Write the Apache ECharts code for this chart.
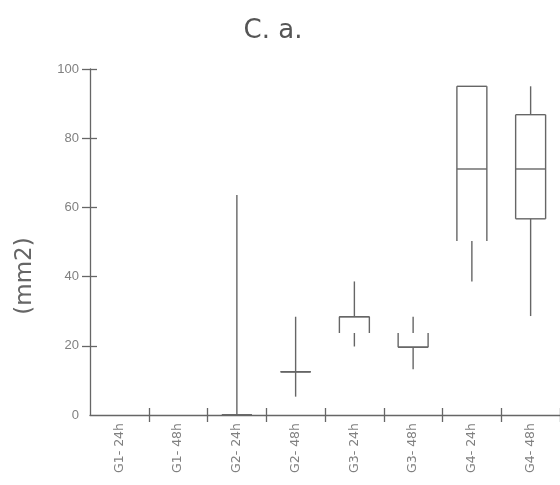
<!DOCTYPE html>
<html>
<head>
<meta charset="utf-8">
<script src="https://cdn.jsdelivr.net/npm/echarts@6/dist/echarts.min.js"></script>
<style>
html,body{margin:0;padding:0;background:#fff;}
#chart{width:560px;height:485px;}
</style>
</head>
<body>
<div id="chart"></div>
<script>
// ---- data ----
const categories   = ['G1- 24h','G1- 48h','G2- 24h','G2- 48h','G3- 24h','G3- 48h','G4- 24h','G4- 48h'];
const minValues    = [null, null, 0,    5.3,  19.8, 13.2, 38.6, 28.6];
const q1Values     = [null, null, 0,    12.5, 23.7, 19.6, 50.3, 56.7];
const medianValues = [null, null, 0,    12.5, 28.4, 19.6, 71.1, 71.1];
const q3Values     = [null, null, 0,    12.5, 28.4, 23.7, 95.0, 86.8];
const maxValues    = [null, null, 63.6, 28.4, 38.6, 28.4, 95.0, 95.0];
const yTicks       = [0, 20, 40, 60, 80, 100];
const chartTitle   = 'C. a.';
const yAxisTitle   = '(mm2)';

// ---- style: box edges not drawn in the reference ----
const hiddenBoxEdges = { 'G3- 24h': 'q1', 'G3- 48h': 'q3', 'G4- 24h': 'q1' };

const boxData = [];
categories.forEach((c, i) => {
  if (minValues[i] == null) return;
  boxData.push([i, minValues[i], q1Values[i], medianValues[i], q3Values[i], maxValues[i]]);
});

const LINE = '#666';
function renderItem(params, api) {
  const i = api.value(0);
  const lo = api.value(1), q1 = api.value(2), med = api.value(3), q3 = api.value(4), hi = api.value(5);
  const x = api.coord([i, med])[0];
  const hw = api.size([1, 0])[0] * 0.255;
  const y = v => api.coord([i, v])[1];
  const hidden = hiddenBoxEdges[categories[i]];
  const style = { stroke: LINE, lineWidth: 1.4, fill: null };
  const seg = (x1, y1, x2, y2) => ({ type: 'line', shape: { x1, y1, x2, y2 }, style });
  const children = [];
  if (hi > q3) children.push(seg(x, y(hi), x, y(q3)));
  if (lo < q1) children.push(seg(x, y(q1), x, y(lo)));
  if (q3 > q1) {
    children.push(seg(x - hw, y(q3), x - hw, y(q1)));
    children.push(seg(x + hw, y(q3), x + hw, y(q1)));
  }
  if (hidden !== 'q3') children.push(seg(x - hw, y(q3), x + hw, y(q3)));
  if (hidden !== 'q1') children.push(seg(x - hw, y(q1), x + hw, y(q1)));
  children.push(seg(x - hw, y(med), x + hw, y(med)));
  return { type: 'group', children };
}

const tickValues = yTicks.filter(v => v !== 0);

const chart = echarts.init(document.getElementById('chart'), null, { renderer: 'canvas' });
chart.setOption({
  animation: false,
  backgroundColor: '#fff',
  title: {
    text: chartTitle,
    left: 268, top: 13, textAlign: 'center',
    textStyle: { fontFamily: 'DejaVu Sans', fontSize: 26, fontWeight: 'normal', color: '#555' }
  },
  graphic: [{
    type: 'text',
    x: 25, y: 276, rotation: Math.PI / 2,
    style: { text: yAxisTitle, fontFamily: 'DejaVu Sans', fontSize: 23, fill: '#666',
             align: 'center', verticalAlign: 'middle' }
  }],
  grid: { left: 90, top: 69, width: 473.6, height: 346 },
  xAxis: [{
    type: 'category', data: categories, boundaryGap: true,
    axisLine: { show: true, lineStyle: { color: LINE, width: 1.3 } },
    axisTick: { show: true, length: 7, interval: (idx) => idx !== 0, lineStyle: { color: LINE, width: 1.3 } },
    axisLabel: { interval: 0, rotate: 90, margin: 8, fontFamily: 'DejaVu Sans', fontSize: 12.5, color: '#808080' },
    splitLine: { show: false }
  }, {
    type: 'category', data: categories, boundaryGap: true, position: 'bottom',
    axisLine: { show: false },
    axisTick: { show: true, inside: true, length: 7, interval: (idx) => idx !== 0, lineStyle: { color: LINE, width: 1.3 } },
    axisLabel: { show: false },
    splitLine: { show: false }
  }],
  yAxis: [{
    type: 'value', min: 0, max: 100, interval: 20,
    axisLine: { show: true, lineStyle: { color: LINE, width: 1.3 } },
    axisTick: { show: true, length: 8, customValues: tickValues, lineStyle: { color: LINE, width: 1.3 } },
    axisLabel: { margin: 11, fontFamily: 'Liberation Sans', fontSize: 13, color: '#808080',
                 customValues: yTicks },
    splitLine: { show: false }
  }, {
    type: 'value', min: 0, max: 100, interval: 20, position: 'left',
    axisLine: { show: false },
    axisTick: { show: true, inside: true, length: 7, customValues: tickValues, lineStyle: { color: LINE, width: 1.3 } },
    axisLabel: { show: false },
    splitLine: { show: false }
  }],
  series: [{
    type: 'custom',
    xAxisIndex: 0, yAxisIndex: 0,
    renderItem: renderItem,
    encode: { x: 0, y: [1, 2, 3, 4, 5] },
    data: boxData
  }]
});
</script>
</body>
</html>
